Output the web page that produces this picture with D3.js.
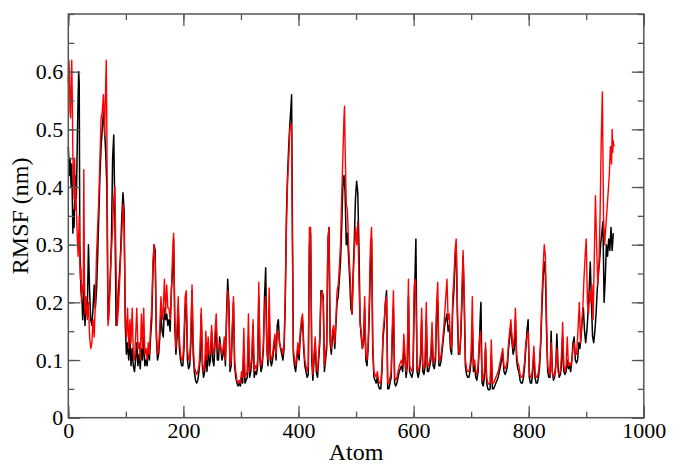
<!DOCTYPE html>
<html>
<head>
<meta charset="utf-8">
<script src="https://cdn.jsdelivr.net/npm/d3@7"></script>
<style>
  html, body { margin: 0; padding: 0; background: #fff; }
</style>
</head>
<body>
<svg id="chart" width="677" height="466" font-family='"Liberation Serif", serif'></svg>
<script>
// ---- data (atom index, RMSF in nm) ----
const xTicks = [0, 200, 400, 600, 800, 1000];
const yTicks = [0, 0.1, 0.2, 0.3, 0.4, 0.5, 0.6];
const xTickLabels = ["0", "200", "400", "600", "800", "1000"];
const yTickLabels = ["0", "0.1", "0.2", "0.3", "0.4", "0.5", "0.6"];

const blackSeries = [[0,0.47],[2,0.42],[3,0.45],[5,0.40],[6,0.44],[8,0.32],[9,0.36],[10,0.33],[12,0.42],[14,0.38],[16,0.50],[18,0.60],[19,0.58],[20,0.30],[22,0.22],[24,0.20],[25,0.17],[27,0.22],[29,0.16],[31,0.20],[33,0.18],[35,0.30],[37,0.22],[39,0.17],[41,0.16],[43,0.19],[45,0.23],[47,0.19],[49,0.22],[51,0.28],[53,0.35],[55,0.42],[57,0.47],[59,0.50],[61,0.53],[63,0.50],[65,0.46],[67,0.40],[69,0.17],[71,0.20],[73,0.24],[75,0.31],[77,0.45],[79,0.49],[81,0.35],[83,0.16],[85,0.18],[87,0.22],[89,0.25],[91,0.29],[93,0.35],[95,0.39],[97,0.36],[99,0.16],[101,0.11],[103,0.13],[105,0.10],[107,0.14],[109,0.09],[111,0.12],[113,0.09],[115,0.08],[117,0.10],[119,0.13],[121,0.09],[123,0.11],[125,0.085],[127,0.12],[129,0.10],[131,0.14],[133,0.09],[135,0.10],[137,0.09],[139,0.12],[141,0.10],[143,0.14],[145,0.17],[147,0.25],[149,0.30],[151,0.29],[153,0.14],[155,0.10],[157,0.11],[159,0.14],[161,0.18],[163,0.15],[165,0.14],[167,0.19],[169,0.17],[171,0.18],[173,0.16],[175,0.17],[177,0.15],[179,0.22],[181,0.25],[183,0.31],[185,0.16],[187,0.11],[189,0.14],[191,0.19],[193,0.12],[195,0.10],[197,0.09],[199,0.09],[201,0.12],[203,0.19],[205,0.20],[207,0.10],[209,0.085],[211,0.09],[213,0.13],[215,0.22],[217,0.11],[219,0.08],[221,0.065],[223,0.06],[225,0.065],[227,0.08],[229,0.10],[231,0.18],[233,0.09],[235,0.07],[237,0.08],[239,0.11],[241,0.08],[243,0.13],[245,0.09],[247,0.10],[249,0.15],[251,0.10],[253,0.09],[255,0.13],[257,0.16],[259,0.10],[261,0.10],[263,0.14],[265,0.12],[267,0.10],[269,0.11],[271,0.13],[273,0.09],[275,0.18],[277,0.24],[279,0.20],[281,0.08],[283,0.09],[285,0.15],[287,0.20],[289,0.09],[291,0.07],[293,0.06],[295,0.055],[297,0.06],[299,0.055],[301,0.07],[303,0.06],[305,0.12],[307,0.06],[309,0.065],[311,0.07],[313,0.14],[315,0.07],[317,0.08],[319,0.10],[321,0.16],[323,0.07],[325,0.08],[327,0.075],[329,0.09],[331,0.21],[333,0.10],[335,0.08],[337,0.09],[339,0.12],[341,0.21],[343,0.26],[345,0.12],[347,0.09],[349,0.19],[351,0.10],[353,0.09],[355,0.10],[357,0.12],[359,0.14],[361,0.10],[363,0.16],[365,0.17],[367,0.13],[369,0.12],[371,0.11],[373,0.10],[375,0.12],[377,0.20],[379,0.35],[381,0.42],[383,0.47],[385,0.51],[387,0.54],[388,0.56],[389,0.40],[391,0.11],[393,0.09],[395,0.08],[397,0.10],[399,0.12],[401,0.10],[403,0.14],[405,0.16],[407,0.17],[409,0.12],[411,0.09],[413,0.08],[415,0.07],[417,0.075],[419,0.30],[421,0.32],[423,0.10],[425,0.065],[427,0.10],[429,0.13],[431,0.08],[433,0.07],[435,0.10],[437,0.13],[439,0.22],[441,0.22],[443,0.21],[445,0.08],[447,0.10],[449,0.12],[451,0.30],[453,0.33],[455,0.13],[457,0.11],[459,0.14],[461,0.15],[463,0.12],[465,0.16],[467,0.20],[469,0.21],[471,0.24],[473,0.27],[475,0.33],[477,0.40],[479,0.42],[481,0.39],[483,0.30],[485,0.32],[487,0.28],[489,0.24],[491,0.19],[493,0.18],[495,0.25],[497,0.31],[499,0.38],[501,0.41],[503,0.39],[505,0.30],[507,0.17],[509,0.14],[511,0.12],[513,0.13],[515,0.19],[517,0.10],[519,0.09],[521,0.12],[523,0.18],[525,0.27],[527,0.31],[529,0.12],[531,0.07],[533,0.065],[535,0.06],[537,0.07],[539,0.055],[541,0.05],[543,0.05],[545,0.08],[547,0.14],[549,0.16],[551,0.20],[553,0.22],[555,0.05],[557,0.05],[559,0.06],[561,0.07],[563,0.14],[565,0.19],[567,0.06],[569,0.055],[571,0.06],[573,0.07],[575,0.08],[577,0.085],[579,0.09],[581,0.08],[583,0.12],[585,0.10],[587,0.07],[589,0.09],[591,0.21],[593,0.08],[595,0.075],[597,0.07],[599,0.08],[601,0.19],[603,0.27],[604,0.31],[606,0.08],[608,0.07],[610,0.08],[612,0.10],[614,0.17],[616,0.08],[618,0.075],[620,0.09],[622,0.17],[624,0.08],[626,0.08],[628,0.09],[630,0.10],[632,0.15],[634,0.09],[636,0.085],[638,0.10],[640,0.18],[642,0.20],[644,0.09],[646,0.09],[648,0.10],[650,0.12],[652,0.14],[654,0.16],[656,0.17],[658,0.18],[660,0.15],[662,0.16],[664,0.12],[666,0.11],[668,0.19],[670,0.22],[672,0.27],[674,0.30],[676,0.18],[678,0.11],[680,0.11],[682,0.14],[684,0.20],[686,0.28],[688,0.20],[690,0.09],[692,0.075],[694,0.07],[696,0.07],[698,0.08],[700,0.10],[702,0.16],[704,0.08],[706,0.09],[708,0.07],[710,0.065],[712,0.08],[714,0.12],[716,0.18],[717,0.20],[719,0.06],[721,0.055],[723,0.07],[725,0.12],[727,0.06],[729,0.05],[731,0.048],[733,0.05],[735,0.11],[737,0.05],[739,0.05],[741,0.055],[743,0.06],[745,0.065],[747,0.07],[749,0.08],[751,0.09],[753,0.10],[755,0.11],[757,0.08],[759,0.075],[761,0.08],[763,0.09],[765,0.12],[767,0.14],[769,0.16],[771,0.13],[773,0.11],[775,0.12],[777,0.17],[779,0.10],[781,0.085],[783,0.08],[785,0.065],[787,0.06],[789,0.06],[791,0.07],[793,0.09],[795,0.12],[797,0.15],[799,0.17],[801,0.07],[803,0.06],[805,0.06],[807,0.08],[809,0.11],[811,0.07],[813,0.06],[815,0.06],[817,0.07],[819,0.09],[821,0.13],[823,0.19],[825,0.24],[827,0.27],[829,0.25],[831,0.15],[833,0.08],[835,0.07],[837,0.07],[839,0.15],[841,0.08],[843,0.065],[845,0.07],[847,0.09],[849,0.145],[851,0.09],[853,0.07],[855,0.075],[857,0.09],[859,0.14],[861,0.08],[863,0.075],[865,0.08],[867,0.10],[869,0.085],[871,0.09],[873,0.08],[875,0.10],[877,0.13],[879,0.14],[881,0.10],[883,0.095],[885,0.10],[887,0.13],[889,0.12],[891,0.14],[893,0.17],[895,0.19],[897,0.15],[899,0.13],[901,0.15],[903,0.18],[905,0.22],[907,0.27],[909,0.20],[911,0.14],[913,0.13],[915,0.15],[917,0.18],[919,0.22],[921,0.25],[923,0.27],[925,0.30],[927,0.32],[929,0.34],[931,0.20],[933,0.24],[935,0.30],[937,0.28],[939,0.31],[941,0.29],[943,0.33],[945,0.29],[947,0.32]];

const redSeries = [[0,0.58],[1,0.62],[2,0.60],[3,0.53],[4,0.52],[5,0.57],[6,0.62],[7,0.55],[8,0.45],[9,0.42],[10,0.38],[11,0.45],[12,0.36],[13,0.40],[15,0.33],[17,0.28],[19,0.35],[20,0.27],[21,0.24],[22,0.26],[23,0.20],[25,0.23],[26,0.22],[27,0.43],[28,0.25],[29,0.18],[31,0.21],[33,0.17],[35,0.20],[37,0.14],[39,0.12],[41,0.13],[43,0.17],[45,0.14],[47,0.20],[49,0.28],[51,0.33],[53,0.38],[55,0.45],[57,0.52],[59,0.53],[61,0.56],[63,0.49],[65,0.58],[66,0.62],[67,0.50],[69,0.16],[71,0.18],[73,0.25],[75,0.29],[77,0.33],[79,0.38],[81,0.40],[83,0.26],[85,0.16],[87,0.19],[89,0.23],[91,0.28],[93,0.32],[95,0.37],[97,0.33],[99,0.18],[101,0.14],[103,0.19],[105,0.12],[107,0.17],[109,0.13],[111,0.19],[113,0.11],[115,0.10],[117,0.14],[119,0.19],[121,0.12],[123,0.13],[125,0.10],[127,0.18],[129,0.12],[131,0.19],[133,0.11],[135,0.12],[137,0.10],[139,0.13],[141,0.11],[143,0.16],[145,0.19],[147,0.27],[149,0.30],[151,0.27],[153,0.15],[155,0.11],[157,0.12],[159,0.16],[161,0.21],[163,0.17],[165,0.19],[167,0.24],[169,0.18],[171,0.23],[173,0.19],[175,0.19],[177,0.17],[179,0.21],[181,0.28],[183,0.32],[185,0.18],[187,0.12],[189,0.16],[191,0.21],[193,0.14],[195,0.11],[197,0.10],[199,0.10],[201,0.14],[203,0.21],[205,0.22],[207,0.12],[209,0.10],[211,0.10],[213,0.15],[215,0.23],[217,0.13],[219,0.09],[221,0.08],[223,0.075],[225,0.08],[227,0.09],[229,0.12],[231,0.19],[233,0.10],[235,0.08],[237,0.09],[239,0.15],[241,0.10],[243,0.14],[245,0.11],[247,0.11],[249,0.16],[251,0.12],[253,0.11],[255,0.15],[257,0.18],[259,0.12],[261,0.12],[263,0.13],[265,0.12],[267,0.11],[269,0.12],[271,0.14],[273,0.10],[275,0.17],[277,0.22],[279,0.19],[281,0.09],[283,0.10],[285,0.16],[287,0.21],[289,0.10],[291,0.08],[293,0.065],[295,0.06],[297,0.065],[299,0.06],[301,0.08],[303,0.07],[305,0.155],[307,0.07],[309,0.075],[311,0.08],[313,0.18],[315,0.08],[317,0.09],[319,0.11],[321,0.17],[323,0.08],[325,0.09],[327,0.085],[329,0.10],[331,0.235],[333,0.11],[335,0.09],[337,0.10],[339,0.13],[341,0.19],[343,0.21],[345,0.12],[347,0.10],[349,0.225],[351,0.11],[353,0.10],[355,0.11],[357,0.13],[359,0.145],[361,0.11],[363,0.15],[365,0.15],[367,0.13],[369,0.12],[371,0.12],[373,0.11],[375,0.13],[377,0.21],[379,0.33],[381,0.41],[383,0.45],[385,0.50],[387,0.51],[388,0.50],[389,0.35],[391,0.12],[393,0.10],[395,0.09],[397,0.11],[399,0.13],[401,0.11],[403,0.15],[405,0.17],[407,0.18],[409,0.13],[411,0.10],[413,0.09],[415,0.08],[417,0.09],[419,0.33],[421,0.33],[423,0.12],[425,0.075],[427,0.11],[429,0.14],[431,0.09],[433,0.08],[435,0.11],[437,0.14],[439,0.21],[441,0.22],[443,0.20],[445,0.09],[447,0.11],[449,0.13],[451,0.31],[453,0.33],[455,0.14],[457,0.12],[459,0.15],[461,0.16],[463,0.13],[465,0.17],[467,0.22],[469,0.23],[471,0.26],[473,0.30],[475,0.38],[477,0.45],[479,0.52],[480,0.54],[481,0.47],[483,0.37],[485,0.36],[487,0.30],[489,0.26],[491,0.22],[493,0.18],[495,0.24],[497,0.29],[499,0.33],[501,0.30],[503,0.34],[505,0.24],[507,0.16],[509,0.15],[511,0.12],[513,0.14],[515,0.21],[517,0.11],[519,0.10],[521,0.13],[523,0.20],[525,0.30],[527,0.33],[529,0.13],[531,0.08],[533,0.075],[535,0.07],[537,0.08],[539,0.065],[541,0.06],[543,0.06],[545,0.09],[547,0.15],[549,0.17],[551,0.20],[553,0.21],[555,0.06],[557,0.06],[559,0.07],[561,0.08],[563,0.16],[565,0.22],[567,0.07],[569,0.065],[571,0.07],[573,0.08],[575,0.09],[577,0.095],[579,0.10],[581,0.09],[583,0.145],[585,0.11],[587,0.08],[589,0.10],[591,0.24],[593,0.09],[595,0.085],[597,0.08],[599,0.09],[601,0.23],[603,0.24],[604,0.21],[606,0.09],[608,0.08],[610,0.09],[612,0.11],[614,0.19],[616,0.09],[618,0.085],[620,0.10],[622,0.20],[624,0.09],[626,0.09],[628,0.10],[630,0.11],[632,0.165],[634,0.10],[636,0.095],[638,0.11],[640,0.20],[642,0.235],[644,0.10],[646,0.10],[648,0.11],[650,0.13],[652,0.15],[654,0.18],[656,0.21],[658,0.24],[660,0.17],[662,0.18],[664,0.13],[666,0.12],[668,0.21],[670,0.24],[672,0.29],[674,0.31],[676,0.20],[678,0.12],[680,0.11],[682,0.15],[684,0.22],[686,0.29],[688,0.21],[690,0.10],[692,0.085],[694,0.08],[696,0.08],[698,0.09],[700,0.11],[702,0.21],[704,0.09],[706,0.10],[708,0.08],[710,0.075],[712,0.09],[714,0.13],[716,0.15],[717,0.13],[719,0.07],[721,0.065],[723,0.08],[725,0.13],[727,0.07],[729,0.06],[731,0.058],[733,0.06],[735,0.135],[737,0.06],[739,0.06],[741,0.065],[743,0.07],[745,0.075],[747,0.08],[749,0.09],[751,0.10],[753,0.11],[755,0.12],[757,0.09],[759,0.085],[761,0.09],[763,0.10],[765,0.13],[767,0.15],[769,0.17],[771,0.14],[773,0.12],[775,0.14],[777,0.19],[779,0.11],[781,0.095],[783,0.09],[785,0.075],[787,0.07],[789,0.07],[791,0.08],[793,0.10],[795,0.13],[797,0.14],[799,0.15],[801,0.08],[803,0.07],[805,0.07],[807,0.09],[809,0.124],[811,0.08],[813,0.07],[815,0.07],[817,0.08],[819,0.10],[821,0.14],[823,0.21],[825,0.26],[827,0.30],[829,0.28],[831,0.17],[833,0.09],[835,0.08],[837,0.075],[839,0.13],[841,0.08],[843,0.07],[845,0.075],[847,0.09],[849,0.12],[851,0.08],[853,0.075],[855,0.08],[857,0.11],[859,0.165],[861,0.09],[863,0.08],[865,0.09],[867,0.14],[869,0.09],[871,0.095],[873,0.09],[875,0.10],[877,0.12],[879,0.13],[881,0.11],[883,0.11],[885,0.14],[887,0.18],[888,0.20],[890,0.13],[892,0.16],[894,0.19],[896,0.24],[898,0.28],[900,0.31],[902,0.20],[904,0.18],[906,0.22],[908,0.20],[910,0.23],[912,0.17],[914,0.28],[916,0.385],[918,0.30],[920,0.23],[922,0.26],[924,0.35],[926,0.48],[928,0.565],[930,0.35],[932,0.30],[934,0.33],[936,0.36],[938,0.39],[940,0.42],[942,0.47],[944,0.44],[945,0.50],[946,0.46],[947,0.48],[948,0.47]];

// ---- layout ----
const FONT = '"Liberation Serif", serif';
const margin = {left: 68.3, top: 14, right: 677 - 643.8, bottom: 466 - 417.7};
const W = 677, H = 466;
const pw = W - margin.left - margin.right;
const ph = H - margin.top - margin.bottom;

const svg = d3.select("#chart");
const g = svg.append("g").attr("transform", `translate(${margin.left},${margin.top})`);

const x = d3.scaleLinear().domain([0, 1000]).range([0, pw]);
const y = d3.scaleLinear().domain([0, 0.7]).range([ph, 0]);

const frameColor = "#555";
const minorX = d3.range(0, 1001, 100);
const minorY = d3.range(0, 0.701, 0.05);

function styleAxis(sel) {
  sel.attr("font-family", FONT);
  sel.select(".domain").remove();
  sel.selectAll(".tick line").attr("stroke", frameColor).attr("stroke-width", 1.3);
  sel.selectAll("text").attr("font-size", 22).attr("fill", "#000")
     .attr("font-family", FONT);
}

// data lines
const line = d3.line().x(d => x(d[0])).y(d => y(d[1]));
g.append("path").datum(blackSeries)
  .attr("fill", "none").attr("stroke", "#000").attr("stroke-width", 1.5)
  .attr("stroke-linejoin", "round").attr("d", line);
g.append("path").datum(redSeries)
  .attr("fill", "none").attr("stroke", "#ff0000").attr("stroke-width", 1.4)
  .attr("stroke-linejoin", "round").attr("d", line);

// minor ticks
g.append("g").attr("transform", `translate(0,${ph})`)
  .call(d3.axisBottom(x).tickValues(minorX).tickSize(-6).tickFormat(""))
  .call(styleAxis);
g.append("g")
  .call(d3.axisTop(x).tickValues(minorX).tickSize(-6).tickFormat(""))
  .call(styleAxis);
g.append("g")
  .call(d3.axisLeft(y).tickValues(minorY).tickSize(-6).tickFormat(""))
  .call(styleAxis);
g.append("g").attr("transform", `translate(${pw},0)`)
  .call(d3.axisRight(y).tickValues(minorY).tickSize(-6).tickFormat(""))
  .call(styleAxis);

// major ticks
g.append("g").attr("transform", `translate(0,${ph})`)
  .call(d3.axisBottom(x).tickValues(xTicks).tickSize(-12).tickPadding(5)
        .tickFormat((d, i) => xTickLabels[i]))
  .call(styleAxis);
g.append("g")
  .call(d3.axisTop(x).tickValues(xTicks).tickSize(-12).tickFormat(""))
  .call(styleAxis);
g.append("g")
  .call(d3.axisLeft(y).tickValues(yTicks).tickSize(-12).tickPadding(5)
        .tickFormat((d, i) => yTickLabels[i]))
  .call(styleAxis);
g.append("g").attr("transform", `translate(${pw},0)`)
  .call(d3.axisRight(y).tickValues(yTicks).tickSize(-12).tickFormat(""))
  .call(styleAxis);

// frame
g.append("rect").attr("x", 0).attr("y", 0).attr("width", pw).attr("height", ph)
  .attr("fill", "none").attr("stroke", frameColor).attr("stroke-width", 1.5);

// axis titles
svg.append("text")
  .attr("x", margin.left + pw / 2).attr("y", 460)
  .attr("text-anchor", "middle").attr("font-size", 24).attr("fill", "#000")
  .attr("font-family", FONT)
  .text("Atom");
svg.append("text")
  .attr("transform", `translate(28,${margin.top + ph / 2}) rotate(-90)`)
  .attr("text-anchor", "middle").attr("font-size", 24).attr("fill", "#000")
  .attr("font-family", FONT)
  .text("RMSF (nm)");
</script>
</body>
</html>
